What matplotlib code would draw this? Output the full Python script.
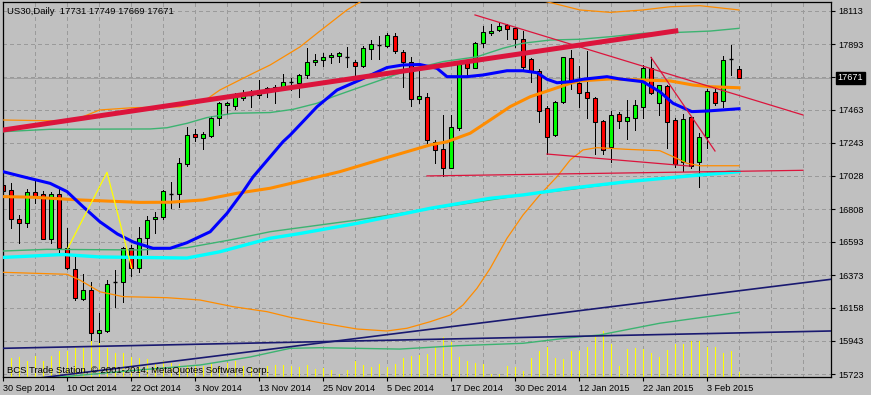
import matplotlib
matplotlib.use("Agg")
import matplotlib.pyplot as plt
from matplotlib.patches import Rectangle
from matplotlib.transforms import blended_transform_factory

plt.rcParams['font.family'] = ['Liberation Sans', 'DejaVu Sans']

# US30 daily bars, 30 Sep 2014 .. 9 Feb 2015 (one per trading day)
opens = [16966, 16934, 16743, 16714, 16918, 16907, 16613, 16907, 16550, 16414,
         16214, 16276, 15991, 16008, 16330, 16330, 16550, 16418, 16616, 16741,
         16754, 16905, 16905, 17103, 17300, 17274, 17291, 17405, 17491, 17486,
         17537, 17558, 17558, 17587, 17591, 17609, 17646, 17639, 17690, 17774,
         17789, 17806, 17815, 17810, 17774, 17749, 17859, 17887, 17881, 17947,
         17843, 17774, 17534, 17547, 17251, 17201, 17080, 17343, 17771, 17738,
         17899, 17964, 17986, 18019, 17997, 17925, 17793, 17716, 17471, 17295,
         17514, 17800, 17639, 17580, 17537, 17387, 17214, 17432, 17389, 17409,
         17482, 17734, 17504, 17618, 17394, 17120, 17412, 17116, 17280, 17576,
         17521, 17793, 17731]
highs = [16999, 16982, 16769, 16940, 16999, 16927, 16922, 16947, 16682, 16501,
         16379, 16326, 16122, 16341, 16407, 16561, 16572, 16690, 16762, 16787,
         16934, 16988, 17146, 17346, 17333, 17317, 17420, 17514, 17514, 17570,
         17591, 17591, 17657, 17613, 17624, 17695, 17668, 17697, 17870, 17826,
         17833, 17837, 17843, 17876, 17789, 17881, 17920, 17949, 17964, 17964,
         17855, 17810, 17723, 17570, 17262, 17427, 17427, 17778, 17789, 17909,
         18012, 18026, 18041, 18026, 18004, 17981, 17802, 17728, 17486, 17519,
         17810, 17855, 17749, 17850, 17547, 17394, 17453, 17449, 17526, 17526,
         17756, 17806, 17624, 17624, 17405, 17433, 17416, 17310, 17596, 17596,
         17815, 17887, 17749]
lows = [16914, 16682, 16585, 16692, 16846, 16608, 16583, 16528, 16414, 16210,
        16210, 15947, 15936, 16001, 16162, 16199, 16368, 16396, 16512, 16649,
        16743, 16813, 16824, 17093, 17258, 17201, 17284, 17359, 17432, 17464,
        17526, 17480, 17537, 17545, 17504, 17591, 17591, 17547, 17668, 17756,
        17751, 17767, 17778, 17745, 17690, 17745, 17793, 17793, 17876, 17837,
        17613, 17488, 17506, 17245, 17109, 17026, 17076, 17328, 17679, 17734,
        17876, 17953, 17981, 17927, 17876, 17723, 17646, 17383, 17170, 17289,
        17504, 17596, 17482, 17405, 17170, 17170, 17116, 17339, 17267, 17328,
        17405, 17565, 17427, 17208, 17087, 17060, 17076, 16955, 17208, 17493,
        17482, 17690, 17669]
closes = [16927, 16741, 16714, 16918, 16885, 16613, 16907, 16550, 16422, 16221,
          16276, 15991, 16013, 16313, 16330, 16550, 16418, 16616, 16736, 16758,
          16927, 16905, 17109, 17295, 17280, 17300, 17409, 17504, 17508, 17552,
          17558, 17558, 17591, 17603, 17609, 17644, 17646, 17690, 17774, 17789,
          17806, 17820, 17833, 17810, 17749, 17866, 17894, 17887, 17951, 17850,
          17778, 17530, 17552, 17262, 17197, 17076, 17350, 17767, 17738, 17903,
          17971, 17980, 18012, 17991, 17925, 17745, 17718, 17455, 17284, 17510,
          17806, 17646, 17574, 17541, 17383, 17197, 17427, 17387, 17416, 17493,
          17734, 17570, 17624, 17383, 17105, 17401, 17093, 17280, 17587, 17508,
          17789, 17793, 17671]
volumes = [1400, 1900, 2000, 1600, 2100, 1600, 2100, 2600, 2600, 2900,
           2900, 4400, 4400, 2900, 2400, 2400, 2000, 1900, 1800, 1400,
           1600, 1400, 1300, 1200, 1200, 1100, 1400, 1100, 1400, 1600,
           1100, 1000, 900, 1100, 1200, 1200, 1170, 1000, 1230, 830,
           970, 730, 330, 730, 1630, 1230, 1030, 1330, 1030, 1330,
           1930, 2130, 2230, 2330, 3070, 4000, 3570, 2030, 1630, 1470,
           1330, 330, 330, 1130, 1030, 630, 1930, 2630, 3030, 1930,
           1870, 2670, 2670, 3070, 4000, 4670, 3330, 1130, 2870, 2930,
           2870, 2470, 2070, 2770, 3370, 3370, 3670, 3670, 3070, 3070,
           2470, 2670, 570]

date_labels = ["30 Sep 2014", "10 Oct 2014", "22 Oct 2014", "3 Nov 2014",
               "13 Nov 2014", "25 Nov 2014", "5 Dec 2014", "17 Dec 2014",
               "30 Dec 2014", "12 Jan 2015", "22 Jan 2015", "3 Feb 2015"]
price_levels = [18113, 17893, 17678, 17463, 17243, 17028, 16808, 16593,
                16373, 16158, 15943, 15723]
last_price = 17671

# indicator lines as (bar, price) vertices
blue_bars = [0, 2.1, 5.9, 8, 10, 12.1, 14.3, 16.3, 18.75, 20.9, 23, 25.9, 28, 30,
             31.25, 33.4, 35, 35.9, 39.25, 41.75, 44.6, 48, 50, 52.1, 54.25, 55.5,
             58, 60, 63, 65, 66.75, 68, 69.25, 70.9, 72.5, 75.5, 77.1, 80, 82.1,
             83.75, 86.1, 88, 92]
blue_vals = [17054, 17026, 16977, 16923, 16824, 16725, 16644, 16591, 16550, 16550,
             16587, 16659, 16780, 16922, 17019, 17152, 17251, 17295, 17481, 17591,
             17657, 17739, 17756, 17759, 17734, 17679, 17679, 17690, 17718, 17718,
             17705, 17662, 17639, 17646, 17662, 17679, 17664, 17646, 17580, 17504,
             17449, 17453, 17468]
orange_bars = [0, 3.75, 9.6, 17.1, 20.9, 25, 29.25, 33.4, 37.5, 42.1, 48.4, 53.4,
               55.5, 58.4, 60.9, 63.4, 65.9, 68.4, 70.9, 72.1, 75.9, 80, 83.4,
               86.25, 88.4, 92]
orange_vals = [16890, 16886, 16868, 16852, 16853, 16868, 16912, 16945, 16996, 17054,
               17153, 17230, 17251, 17307, 17394, 17482, 17547, 17591, 17635, 17651,
               17664, 17657, 17651, 17624, 17613, 17606]
cyan_bars = [0, 7.5, 12.1, 23, 27.1, 33.4, 37.1, 44.25, 53.4, 60.9, 65, 70.9, 78,
             86.25, 92]
cyan_vals = [16490, 16509, 16493, 16486, 16527, 16616, 16647, 16714, 16813, 16879,
             16901, 16945, 16988, 17028, 17054]
green_mid_bars = [0, 5.5, 17.1, 23, 28.4, 33.4, 35.9, 44.25, 52.5, 60.9, 65, 70.9,
                  78, 86.25, 92]
green_mid_vals = [16532, 16543, 16539, 16554, 16605, 16659, 16677, 16736, 16802,
                  16868, 16901, 16937, 16986, 17035, 17062]
green_up_bars = [0, 5.9, 18.4, 20.5, 23, 25.5, 28.75, 33.4, 36.25, 39.25, 41.25,
                 44.6, 47.5, 50.5, 55, 59.25, 62.5, 65, 68.4, 72.1, 75.9, 80,
                 84.25, 88.4, 92]
green_up_vals = [17317, 17333, 17335, 17343, 17372, 17410, 17438, 17443, 17464,
                 17504, 17547, 17609, 17662, 17720, 17778, 17810, 17866, 17899,
                 17920, 17925, 17942, 17964, 17970, 17979, 17997]
green_low_bars = [0, 7.1, 16.25, 24.6, 30.9, 35.9, 39.6, 49.6, 56.75, 65, 70.9,
                  74.6, 82.1, 92]
green_low_vals = [15670, 15703, 15746, 15782, 15835, 15892, 15896, 15887, 15909,
                  15925, 15962, 15980, 16057, 16129]
band_up_bars = [0, 8, 10, 12.1, 16.25, 22.1, 25, 27.1, 31.25, 33.4, 37.1, 39.25,
                43, 47.1, 53.4, 62.1, 67.1, 69.6, 72.1, 75.9, 80, 83.4, 87.1, 92]
band_up_vals = [17394, 17387, 17416, 17460, 17475, 17481, 17514, 17591, 17701,
                17756, 17874, 17964, 18118, 18249, 18315, 18249, 18183, 18151,
                18118, 18102, 18118, 18139, 18146, 18118]
band_low_bars = [0, 8, 9.6, 12.1, 15, 20.5, 24.6, 28.75, 33, 35.9, 40, 44.25, 48,
                 50.5, 53.4, 55.9, 57.5, 59.25, 60.9, 63, 65, 67.1, 69.25, 70.9,
                 72.5, 74.25, 78, 82.1, 83.75, 85.5, 87.1, 92]
band_low_vals = [16392, 16379, 16341, 16264, 16232, 16225, 16210, 16166, 16133,
                 16096, 16057, 16019, 16006, 16024, 16067, 16111, 16177, 16287,
                 16418, 16616, 16769, 16901, 17021, 17131, 17197, 17212, 17201,
                 17192, 17153, 17109, 17093, 17093]
zigzag_bars = [8.1, 13, 16.1]
zigzag_vals = [16550, 17050, 16418]

# drawn trendline objects: anchor bars and prices
trend_main = ([0, 84.1], [17328, 17980])
trend_top = ([59, 100], [18085, 17427])
trend_bottom = ([68, 86], [17170, 17090])
trend_flat = ([53, 100], [17026, 17063])
trend_steep = ([81, 89], [17806, 17190])
navy_flat = ([0, 103.5], [15892, 16006])
navy_rise = ([4.6, 103.5], [15697, 16346])

bg = "#c0c0c0"
fig = plt.figure(figsize=(8.71, 3.95), dpi=100, facecolor=bg)
ax = fig.add_axes([3 / 871, 1 - 377.3 / 395, 828 / 871, 375.3 / 395])
ax.set_facecolor(bg)
ax.set_xlim(0, 103.5)
ax.set_ylim(15701.3, 18170.2)

n = len(opens)
bars = list(range(n))

# volumes along the bottom of the price pane
vtrans = blended_transform_factory(ax.transData, ax.transAxes)
ax.vlines(bars, 0, [v / 37530 for v in volumes], transform=vtrans,
          color="#ffff00", lw=0.72, zorder=1.5, antialiased=False)

for i in bars:
    o, h, l, c = opens[i], highs[i], lows[i], closes[i]
    ax.vlines(i, l, h, color="black", lw=0.72, zorder=2, antialiased=False)
    if o == c:
        ax.hlines(o, i - 0.3, i + 0.3, color="black", lw=1.0, zorder=2.2)
    else:
        col = "#00ff00" if c > o else "#ff0000"
        ax.add_patch(Rectangle((i - 0.28, min(o, c)), 0.56, abs(c - o),
                               facecolor=col, edgecolor="black", lw=0.75,
                               zorder=2.2))

ax.plot(green_low_bars, green_low_vals, color="#3cb371", lw=1.0, zorder=3)
ax.plot(green_up_bars, green_up_vals, color="#3cb371", lw=1.0, zorder=3)
ax.plot(green_mid_bars, green_mid_vals, color="#3cb371", lw=1.0, zorder=3)
ax.plot(band_up_bars, band_up_vals, color="#ff8c00", lw=0.9, zorder=3)
ax.plot(band_low_bars, band_low_vals, color="#ff8c00", lw=0.9, zorder=3)
ax.plot(cyan_bars, cyan_vals, color="#00ffff", lw=2.4, zorder=3.2)
ax.plot(orange_bars, orange_vals, color="#ff8c00", lw=2.2, zorder=3.3)
ax.plot(blue_bars, blue_vals, color="#0000ff", lw=2.2, zorder=3.4)
ax.plot(zigzag_bars, zigzag_vals, color="#ffff00", lw=0.9, zorder=3.5)

for tl in (navy_flat, navy_rise):
    ax.plot(tl[0], tl[1], color="#191970", lw=1.2, zorder=3)
for tl in (trend_top, trend_bottom, trend_flat, trend_steep):
    ax.plot(tl[0], tl[1], color="#dc143c", lw=0.9, zorder=3.6)
ax.plot(trend_main[0], trend_main[1], color="#dc143c", lw=3.6, zorder=3.6)

# price line + label
ax.axhline(last_price, color="#a0a0a0", lw=0.72, zorder=1, antialiased=False)
ax.text(1.0081, last_price, str(last_price), transform=ax.get_yaxis_transform(),
        color="white", fontsize=6.6, va="center", ha="left",
        bbox=dict(boxstyle="square,pad=0.2", fc="black", ec="black"))

# axes cosmetics
ax.yaxis.tick_right()
ax.set_yticks(price_levels)
ax.set_yticklabels(["" if p == 17678 else str(p) for p in price_levels])
ax.set_xticks(list(range(0, 8 * len(date_labels), 8)))
ax.set_xticklabels(date_labels, ha="left")
ax.set_xticks(list(range(0, 104, 4)), minor=True)
ax.tick_params(axis="both", which="major", length=3, width=0.8, color="black",
               labelsize=6.6, direction="out")
ax.tick_params(axis="y", pad=2.5)
ax.tick_params(axis="x", pad=1.5)
ax.tick_params(axis="x", which="minor", length=0)
ax.set_axisbelow(True)
ax.grid(axis="x", which="both", color="#9a9a9a", lw=0.72, ls=(0, (3, 3)),
        antialiased=False)
ax.grid(axis="y", which="major", color="#9a9a9a", lw=0.72, ls=(0, (3, 3)),
        antialiased=False)
for s in ax.spines.values():
    s.set_color("black")
    s.set_linewidth(0.9)

ax.text(0.005, 0.976, "US30,Daily  17731 17749 17669 17671", transform=ax.transAxes,
        fontsize=6.8, va="center", ha="left", color="black", zorder=5)
ax.text(0.0045, 0.019, "BCS Trade Station, \u00a9 2001-2014, MetaQuotes Software Corp.",
        transform=ax.transAxes, fontsize=6.8, va="center", ha="left", color="black",
        zorder=5)

fig.savefig("out.png", dpi=100, facecolor=bg)
